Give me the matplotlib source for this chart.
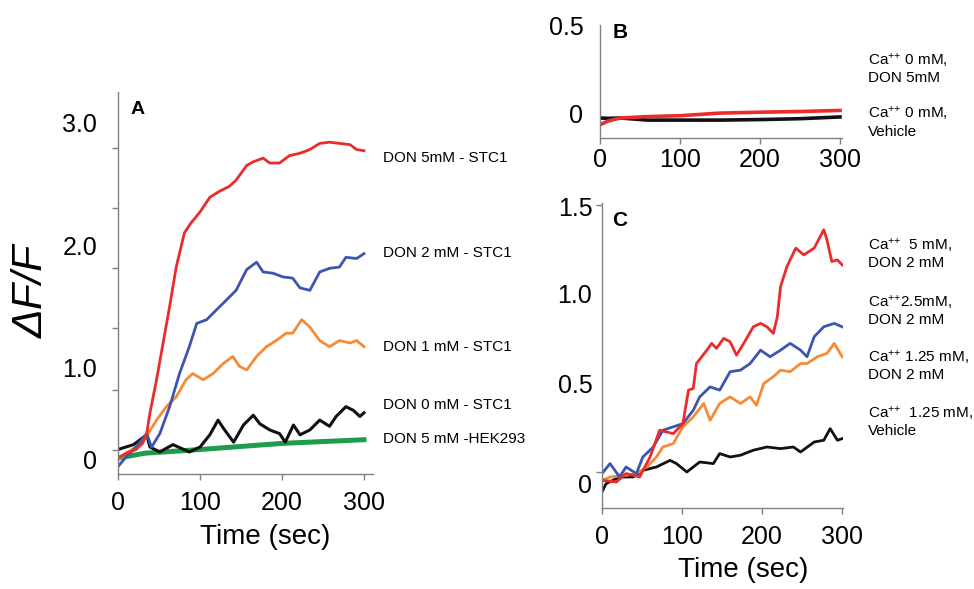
import matplotlib.pyplot as plt

plt.rcParams['font.family'] = ['Liberation Sans', 'DejaVu Sans']
plt.rcParams['mathtext.fontset'] = 'custom'
plt.rcParams['mathtext.rm'] = 'Liberation Sans'
plt.rcParams['mathtext.it'] = 'Liberation Sans:italic'
plt.rcParams['mathtext.default'] = 'rm'

W, H = 974, 589

RED = '#ec2b2b'
BLUE = '#3d55b0'
ORANGE = '#f68a35'
GREEN = '#1e9b4b'
BLACK = '#111111'
GREY = '#808080'

# ---- panel A: dF/F vs time (sec), STC1 / HEK293 cells ----
a_red_t = [0, 10, 22, 30, 35, 39, 47, 55, 63, 71, 81, 89, 100, 112, 124, 136, 144,
           157, 165, 177, 185, 197, 209, 222, 234, 246, 258, 270, 283, 291, 300]
a_red = [0.26, 0.30, 0.33, 0.38, 0.46, 0.63, 0.90, 1.20, 1.50, 1.82, 2.10, 2.18, 2.27,
         2.39, 2.44, 2.48, 2.53, 2.65, 2.68, 2.71, 2.67, 2.67, 2.73, 2.75, 2.78, 2.83,
         2.84, 2.83, 2.82, 2.78, 2.77]

a_blue_t = [0, 10, 22, 35, 41, 51, 63, 75, 87, 96, 108, 120, 132, 144, 157, 169, 177,
            189, 201, 213, 222, 234, 246, 258, 270, 278, 291, 300]
a_blue = [0.19, 0.27, 0.35, 0.46, 0.35, 0.46, 0.68, 0.95, 1.17, 1.36, 1.39, 1.47, 1.55,
          1.63, 1.80, 1.86, 1.78, 1.77, 1.74, 1.73, 1.65, 1.63, 1.78, 1.81, 1.82, 1.90,
          1.89, 1.93]

a_orange_t = [0, 10, 22, 35, 47, 59, 71, 83, 91, 104, 116, 128, 140, 148, 157, 169, 181,
              193, 205, 213, 224, 234, 246, 258, 270, 283, 291, 300]
a_orange = [0.245, 0.30, 0.35, 0.44, 0.57, 0.68, 0.76, 0.90, 0.95, 0.90, 0.95, 1.03,
            1.09, 1.01, 0.98, 1.09, 1.17, 1.22, 1.28, 1.28, 1.39, 1.33, 1.22, 1.17, 1.22,
            1.20, 1.22, 1.17]

a_black_t = [0, 19, 35, 39, 51, 67, 87, 100, 112, 122, 130, 141, 153, 165, 173, 185,
             197, 204, 214, 222, 234, 246, 258, 266, 278, 287, 295, 300]
a_black = [0.33, 0.37, 0.45, 0.35, 0.31, 0.37, 0.31, 0.35, 0.45, 0.57, 0.49, 0.39, 0.53,
           0.61, 0.54, 0.49, 0.46, 0.39, 0.53, 0.45, 0.49, 0.57, 0.52, 0.60, 0.68, 0.65,
           0.60, 0.63]

a_green_t = [0, 33, 100, 200, 300]
a_green = [0.26, 0.30, 0.33, 0.38, 0.41]

a_labels = ['DON 5mM - STC1', 'DON 2 mM - STC1', 'DON 1 mM - STC1',
            'DON 0 mM - STC1', 'DON 5 mM -HEK293']
a_label_y = [158, 253, 347, 405, 439]

# ---- panel B: Ca++ free medium ----
b_t = [0, 10, 25, 60, 100, 150, 200, 250, 300]
b_red = [-0.067, -0.045, -0.028, -0.02, -0.015, 0.0, 0.005, 0.009, 0.015]
b_black = [-0.028, -0.03, -0.028, -0.04, -0.04, -0.04, -0.037, -0.032, -0.022]

SUP = '$^{{+}{+}}$'
b_labels = ['Ca' + SUP + ' 0 mM,', 'DON 5mM', 'Ca' + SUP + ' 0 mM,', 'Vehicle']
b_label_y = [60, 78, 113, 132]

# ---- panel C: Ca++ dependence, DON 2 mM ----
c_red_t = [0, 18, 30, 47, 60, 72, 89, 101, 108, 114, 118, 131, 137, 143, 152, 160, 168,
           177, 189, 198, 206, 214, 219, 223, 231, 242, 252, 265, 277, 281, 287, 294, 300]
c_red = [-0.045, -0.054, -0.007, -0.026, 0.086, 0.236, 0.217, 0.273, 0.461, 0.470, 0.610,
         0.685, 0.723, 0.695, 0.751, 0.732, 0.657, 0.723, 0.816, 0.835, 0.816, 0.779,
         0.873, 1.041, 1.154, 1.257, 1.219, 1.257, 1.360, 1.303, 1.182, 1.191, 1.163]

c_blue_t = [0, 10, 22, 30, 43, 51, 64, 76, 89, 101, 114, 122, 135, 147, 160, 173, 185,
            198, 210, 223, 235, 248, 256, 265, 277, 290, 300]
c_blue = [-0.007, 0.049, -0.026, 0.030, -0.007, 0.086, 0.142, 0.236, 0.255, 0.273, 0.348,
          0.423, 0.479, 0.461, 0.564, 0.573, 0.610, 0.685, 0.648, 0.685, 0.723, 0.685,
          0.648, 0.760, 0.816, 0.835, 0.816]

c_orange_t = [0, 10, 30, 43, 56, 68, 76, 89, 101, 114, 127, 135, 147, 160, 173, 185, 193,
              202, 214, 223, 235, 248, 256, 269, 281, 290, 300]
c_orange = [-0.045, -0.026, -0.017, -0.007, 0.030, 0.086, 0.142, 0.161, 0.255, 0.311,
            0.386, 0.292, 0.386, 0.423, 0.386, 0.423, 0.376, 0.498, 0.536, 0.573, 0.564,
            0.610, 0.610, 0.648, 0.667, 0.723, 0.648]

c_black_t = [0, 5, 22, 39, 51, 68, 85, 93, 106, 122, 139, 147, 160, 173, 189, 206, 223,
             239, 248, 265, 277, 285, 294, 300]
c_black = [-0.110, -0.064, -0.026, -0.026, 0.011, 0.030, 0.067, 0.049, 0.002, 0.058,
           0.049, 0.105, 0.086, 0.096, 0.124, 0.142, 0.133, 0.142, 0.114, 0.170, 0.180,
           0.245, 0.180, 0.189]

c_labels = ['Ca' + SUP + '  5 mM,', 'DON 2 mM', 'Ca' + SUP + '2.5mM,', 'DON 2 mM',
            'Ca' + SUP + ' 1.25 mM,', 'DON 2 mM', 'Ca' + SUP + '  1.25 mM,', 'Vehicle']
c_label_y = [245, 263, 302, 320, 357, 375, 413, 431]

xticks = [0, 100, 200, 300]


def px_axes(left, top, right, bottom):
    return fig.add_axes([left / W, 1 - bottom / H, (right - left) / W, (bottom - top) / H])


def style(ax, ypad, xpad):
    for s in ['top', 'right']:
        ax.spines[s].set_visible(False)
    for s in ['left', 'bottom']:
        ax.spines[s].set_color(GREY)
        ax.spines[s].set_linewidth(1.0)
    ax.set_xticks(xticks, [str(x) for x in xticks])
    ax.tick_params(axis='x', length=4, width=1, color=GREY, labelsize=18, pad=xpad)
    ax.tick_params(axis='y', which='major', length=0, labelsize=18, pad=ypad)
    ax.tick_params(axis='y', which='minor', length=4, width=1, color=GREY)


def ftext(x, y, s, **kw):
    fig.text(x / W, 1 - y / H, s, **kw)


fig = plt.figure(figsize=(W / 100, H / 100), dpi=100)

# panel A
axA = px_axes(118, 92, 373, 474)
axA.plot(a_green_t, a_green, color=GREEN, lw=3.6)
axA.plot(a_black_t, a_black, color=BLACK, lw=2.2)
axA.plot(a_orange_t, a_orange, color=ORANGE, lw=2.0)
axA.plot(a_blue_t, a_blue, color=BLUE, lw=2.0)
axA.plot(a_red_t, a_red, color=RED, lw=2.0)
axA.set_xlim(0, 311)
axA.set_ylim(0.13, 3.25)
style(axA, ypad=15, xpad=8)
axA.set_yticks([0.245, 1.0, 2.0, 3.0], ['0', '1.0', '2.0', '3.0'])
axA.set_yticks([0.33, 0.82, 1.32, 1.81, 2.30, 2.79], minor=True)
ftext(138, 110, 'A', fontsize=14, fontweight='bold', ha='center', va='center')
for lab, y in zip(a_labels, a_label_y):
    ftext(383, y, lab, fontsize=11, ha='left', va='center')
ftext(265, 537, 'Time (sec)', fontsize=20, ha='center', va='center')
ftext(32, 291, 'ΔF/F', fontsize=31, style='italic', rotation=90, ha='center', va='center')

# panel B
axB = px_axes(600, 25, 842, 138)
axB.plot(b_t, b_black, color=BLACK, lw=2.6)
axB.plot(b_t, b_red, color=RED, lw=2.6)
axB.set_xlim(0, 302.5)
axB.set_ylim(-0.142, 0.502)
style(axB, ypad=12, xpad=3)
axB.set_yticks([0, 0.5], ['0', '0.5'])
axB.set_yticks([0, 0.5], minor=True)
ftext(620, 33, 'B', fontsize=15, fontweight='bold', ha='center', va='center')
for lab, y in zip(b_labels, b_label_y):
    ftext(868, y, lab, fontsize=11, ha='left', va='center')

# panel C
axC = px_axes(602, 203, 843, 508)
axC.plot(c_black_t, c_black, color=BLACK, lw=2.0)
axC.plot(c_orange_t, c_orange, color=ORANGE, lw=2.0)
axC.plot(c_blue_t, c_blue, color=BLUE, lw=2.0)
axC.plot(c_red_t, c_red, color=RED, lw=2.0)
axC.set_xlim(0, 301)
axC.set_ylim(-0.20, 1.51)
style(axC, ypad=7, xpad=8)
axC.set_yticks([-0.06, 0.5, 1.0, 1.49], ['0', '0.5', '1.0', '1.5'])
axC.set_yticks([0, 0.5, 1.0, 1.5], minor=True)
ftext(620, 220, 'C', fontsize=15, fontweight='bold', ha='center', va='center')
for lab, y in zip(c_labels, c_label_y):
    ftext(868, y, lab, fontsize=11, ha='left', va='center')
ftext(743, 570, 'Time (sec)', fontsize=20, ha='center', va='center')

fig.savefig('out.png', dpi=100)
